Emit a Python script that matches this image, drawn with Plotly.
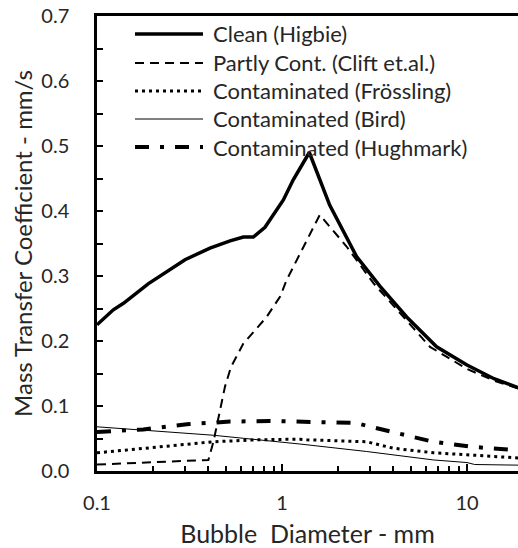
import plotly.graph_objects as go
import math

# ---- data ----
clean_x = [0.1, 0.1225, 0.139, 0.189, 0.299, 0.408, 0.524, 0.618, 0.70, 0.809, 1.017, 1.15, 1.405,
           1.81, 2.53, 3.39, 4.72, 6.85, 10.0, 14.0, 19.0]
clean_y = [0.225, 0.248, 0.258, 0.288, 0.325, 0.343, 0.354, 0.360, 0.360, 0.375, 0.417, 0.448, 0.490,
           0.409, 0.330, 0.284, 0.237, 0.191, 0.163, 0.142, 0.128]

partly_x = [0.1, 0.2, 0.3, 0.40, 0.426, 0.492, 0.53, 0.618, 0.826, 0.975, 1.06, 1.42, 1.60,
            2.24, 3.12, 4.53, 6.31, 10.0, 14.0, 19.0]
partly_y = [0.010, 0.013, 0.015, 0.017, 0.045, 0.130, 0.160, 0.196, 0.237, 0.268, 0.294, 0.366, 0.394,
            0.345, 0.289, 0.237, 0.191, 0.157, 0.139, 0.127]

frossling_x = [0.1, 0.21, 0.426, 0.73, 1.25, 1.36, 2.87, 4.0, 6.58, 10.0, 17.8, 19.0]
frossling_y = [0.028, 0.037, 0.045, 0.048, 0.049, 0.048, 0.045, 0.035, 0.028, 0.025, 0.020, 0.020]

bird_x = [0.1, 0.426, 1.25, 2.87, 6.58, 10.0, 11.0, 19.0]
bird_y = [0.068, 0.055, 0.0415, 0.030, 0.017, 0.013, 0.010, 0.009]

hughmark_x = [0.1, 0.178, 0.306, 0.524, 0.86, 1.48, 2.49, 4.08, 6.58, 10.8, 17.8, 19.0]
hughmark_y = [0.060, 0.064, 0.072, 0.076, 0.077, 0.076, 0.074, 0.059, 0.045, 0.037, 0.032, 0.032]

series_names = ["Clean (Higbie)", "Partly Cont. (Clift et.al.)", "Contaminated (Frössling)",
                "Contaminated (Bird)", "Contaminated (Hughmark)"]

x_title = "Bubble\u00a0 Diameter - mm"
y_title = "Mass Transfer Coefficient - mm/s"
y_tickvals = [0.0, 0.1, 0.2, 0.3, 0.4, 0.5, 0.6, 0.7]
y_minor_vals = [0.05, 0.15, 0.25, 0.35, 0.45, 0.55, 0.65]
x_tickvals = [0.1, 1, 10]
x_ticktext = ["0.1", "1", "10"]
x_minor_vals = [0.2, 0.3, 0.4, 0.5, 0.6, 0.7, 0.8, 0.9, 2, 3, 4, 5, 6, 7, 8, 9]

# ---- styles ----
FONT = "Lato"
TXT = "#262626"
styles = [
    dict(color="black", width=3.5, dash="solid"),
    dict(color="black", width=2, dash="9px,6px"),
    dict(color="black", width=3, dash="3px,4px"),
    dict(color="black", width=1, dash="solid"),
    dict(color="black", width=4, dash="14px,11px,4px,11px"),
]

W, H = 518, 548
L, R, T, B = 97, 0, 16, 77
pw, ph = W - L - R, H - T - B

fig = go.Figure()
xs = [clean_x, partly_x, frossling_x, bird_x, hughmark_x]
ys = [clean_y, partly_y, frossling_y, bird_y, hughmark_y]
for name, x, y, st in zip(series_names, xs, ys, styles):
    fig.add_trace(go.Scatter(x=x, y=y, mode="lines", name=name, line=st,
                             showlegend=False))

# manual legend (line samples + text)
rows_py = [34, 63, 91, 119, 147]
def px2paper_x(px):
    return (px - L) / pw
def py2paper_y(py):
    return (H - B - py) / ph

for name, st, py in zip(series_names, styles, rows_py):
    fig.add_shape(type="line", xref="paper", yref="paper",
                  x0=px2paper_x(135), x1=px2paper_x(203),
                  y0=py2paper_y(py), y1=py2paper_y(py),
                  line=dict(color="black", width=st["width"], dash=st["dash"]))
    fig.add_annotation(xref="paper", yref="paper", x=px2paper_x(211), y=py2paper_y(py),
                       text=name, showarrow=False, xanchor="left", yanchor="middle",
                       font=dict(family=FONT, size=22, color=TXT))

xmax_log = -1 + pw / 185.0

fig.update_layout(
    width=W, height=H,
    margin=dict(l=L, r=R, t=T, b=B, pad=0),
    paper_bgcolor="white", plot_bgcolor="white",
    font=dict(family=FONT, size=20, color=TXT),
    showlegend=False,
)
fig.update_xaxes(
    type="log", range=[-1, xmax_log],
    tickvals=x_tickvals, ticktext=x_ticktext,
    ticks="inside", ticklen=7, tickwidth=2, tickcolor="black",
    ticklabelstandoff=12,
    minor=dict(tickvals=x_minor_vals, ticks="inside", ticklen=5, tickwidth=2,
               tickcolor="black", showgrid=False),
    showline=True, linecolor="black", linewidth=2.5, mirror=True,
    showgrid=False, zeroline=False,
    tickfont=dict(family=FONT, size=20, color=TXT),
    title=dict(text=x_title, font=dict(family=FONT, size=25, color=TXT), standoff=14),
)
fig.update_yaxes(
    range=[0, 0.7], tickvals=y_tickvals, tickformat=".1f",
    ticks="inside", ticklen=6, tickwidth=2, tickcolor="black",
    ticklabelstandoff=21,
    minor=dict(tickvals=y_minor_vals, ticks="inside", ticklen=6, tickwidth=2,
               tickcolor="black", showgrid=False),
    showline=True, linecolor="black", linewidth=2.5, mirror=False,
    showgrid=False, zeroline=False,
    tickfont=dict(family=FONT, size=20, color=TXT),
    title=dict(text=y_title, font=dict(family=FONT, size=24, color=TXT), standoff=2),
)

fig.write_html("out.html")
